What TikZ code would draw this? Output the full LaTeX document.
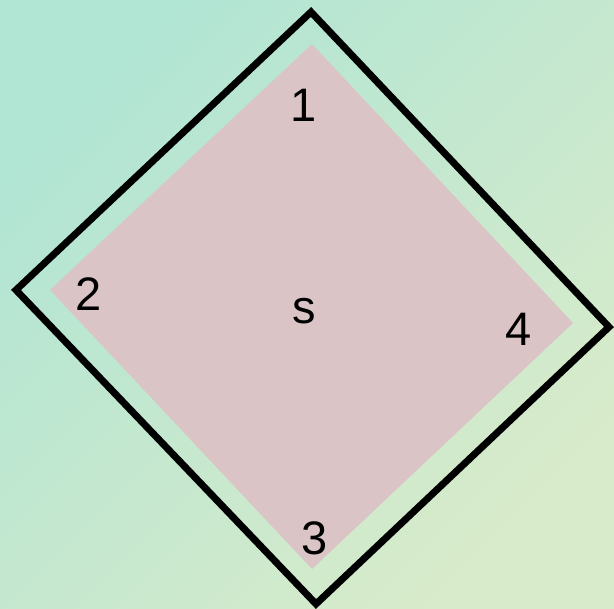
\documentclass[tikz,border=0pt]{standalone}
\usepackage{fontspec}
\setmainfont{Liberation Sans}
\usepackage{xcolor}
\definecolor{bgtl}{HTML}{B1E5D4}
\definecolor{bgbr}{HTML}{D8EBCA}
\definecolor{rosefill}{HTML}{DBC4C6}
\tikzset{
  frameline/.style={draw=black,line width=7pt,line join=miter},
  innerpatch/.style={fill=rosefill,draw=none},
  cornerlabel/.style={inner sep=0pt,font=\fontsize{47}{56}\selectfont}
}
\begin{document}
\begin{tikzpicture}[x=1pt,y=-1pt]
  % background
  \shade[top color=bgtl,bottom color=bgbr,shading angle=45]
    (0,0) rectangle (614,609);
  \useasboundingbox (0,0) rectangle (614,609);
  % outer frame
  \coordinate (otop) at (311,12);
  \coordinate (oleft) at (16,290);
  \coordinate (obot) at (316,604);
  \coordinate (oright) at (609,327);
  \draw[frameline] (otop) -- (oleft) -- (obot) -- (oright) -- cycle;
  % inner square
  \coordinate (itop) at (312,44);
  \coordinate (ileft) at (50,290);
  \coordinate (ibot) at (312,569);
  \coordinate (iright) at (573,323);
  \fill[innerpatch] (itop) -- (ileft) -- (ibot) -- (iright) -- cycle;
  % labels
  \node[cornerlabel] (one) at (304,105) {1};
  \node[cornerlabel] (two) at (89,294) {2};
  \node[cornerlabel] (mid) at (304.5,311) {s};
  \node[cornerlabel] (four) at (519,329) {4};
  \node[cornerlabel] (three) at (315,538) {3};
\end{tikzpicture}
\end{document}
